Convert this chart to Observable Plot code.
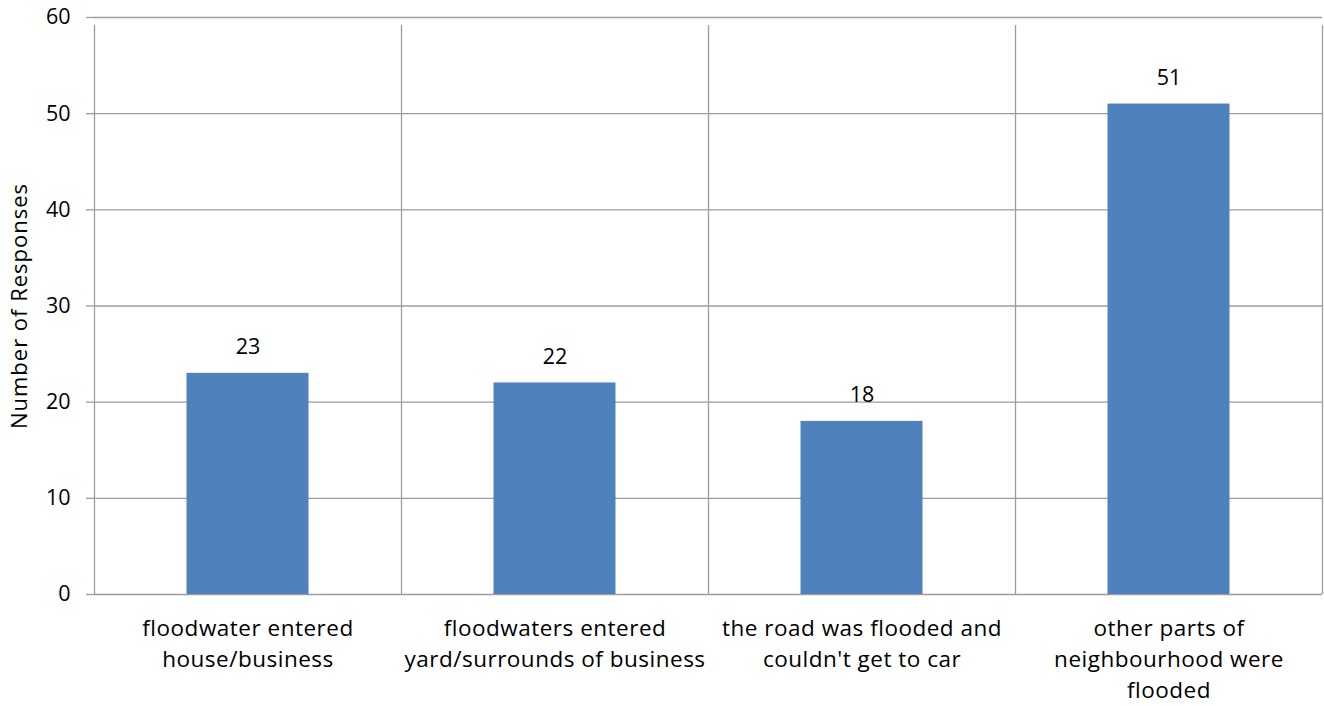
<!DOCTYPE html>
<html>
<head>
<meta charset="utf-8">
<script src="https://cdn.jsdelivr.net/npm/d3@7"></script>
<script src="https://cdn.jsdelivr.net/npm/@observablehq/plot@0.6"></script>
<style>
  html, body { margin: 0; padding: 0; background: #fff; }
  #chart svg { display: block; }
  .xlab text, .ytitle text { letter-spacing: 0.5px; }
  .ytitle text { letter-spacing: 1px; }
</style>
</head>
<body>
<div id="chart"></div>
<script>
const categories = [
  "floodwater entered\nhouse/business",
  "floodwaters entered\nyard/surrounds of business",
  "the road was flooded and\ncouldn't get to car",
  "other parts of\nneighbourhood were\nflooded"
];
const responses = [23, 22, 18, 51];
const yTicks = [0, 10, 20, 30, 40, 50, 60];
const yLabel = "Number of Responses";

const data = categories.map((c, i) => ({i, category: c, value: responses[i]}));
const boundaries = d3.range(categories.length + 1);
const font = "'Open Sans', sans-serif";
const grid = "#9d9d9d";

const chart = Plot.plot({
  width: 1324,
  height: 706,
  marginLeft: 94,
  marginRight: 2,
  marginTop: 17,
  marginBottom: 112,
  style: {fontFamily: font, fontSize: "21px", color: "#000", background: "#fff"},
  x: {type: "linear", domain: [0, categories.length], axis: null},
  y: {domain: [0, 60], ticks: yTicks, axis: null},
  marks: [
    Plot.ruleY(yTicks, {stroke: grid, strokeWidth: 1.3}),
    Plot.ruleX(boundaries, {y1: 0, y2: 60, stroke: grid, strokeWidth: 1.3, insetBottom: -8}),
    Plot.axisY({ticks: yTicks, tickSize: 8, tickPadding: 16, stroke: grid, strokeWidth: 1.3, fontSize: 21.5, label: null, color: "#000"}),
    Plot.rectY(data, {x1: d => d.i, x2: d => d.i + 1, y: "value", fill: "#4f81bd", insetLeft: 92.5, insetRight: 92.5}),
    Plot.text(data, {x: d => d.i + 0.5, y: "value", text: d => String(d.value), dy: -26, fill: "#000", fontSize: 21.5}),
    Plot.text(data, {x: d => d.i + 0.5, y: 0, text: "category", lineAnchor: "top", dy: 19, lineHeight: 1.38, fill: "#000", fontSize: 22.5, className: "xlab"}),
    Plot.text([yLabel], {frameAnchor: "left", textAnchor: "middle", rotate: -90, dx: -75, fill: "#000", fontSize: 22, className: "ytitle"})
  ]
});
document.getElementById("chart").appendChild(chart);
</script>
</body>
</html>
